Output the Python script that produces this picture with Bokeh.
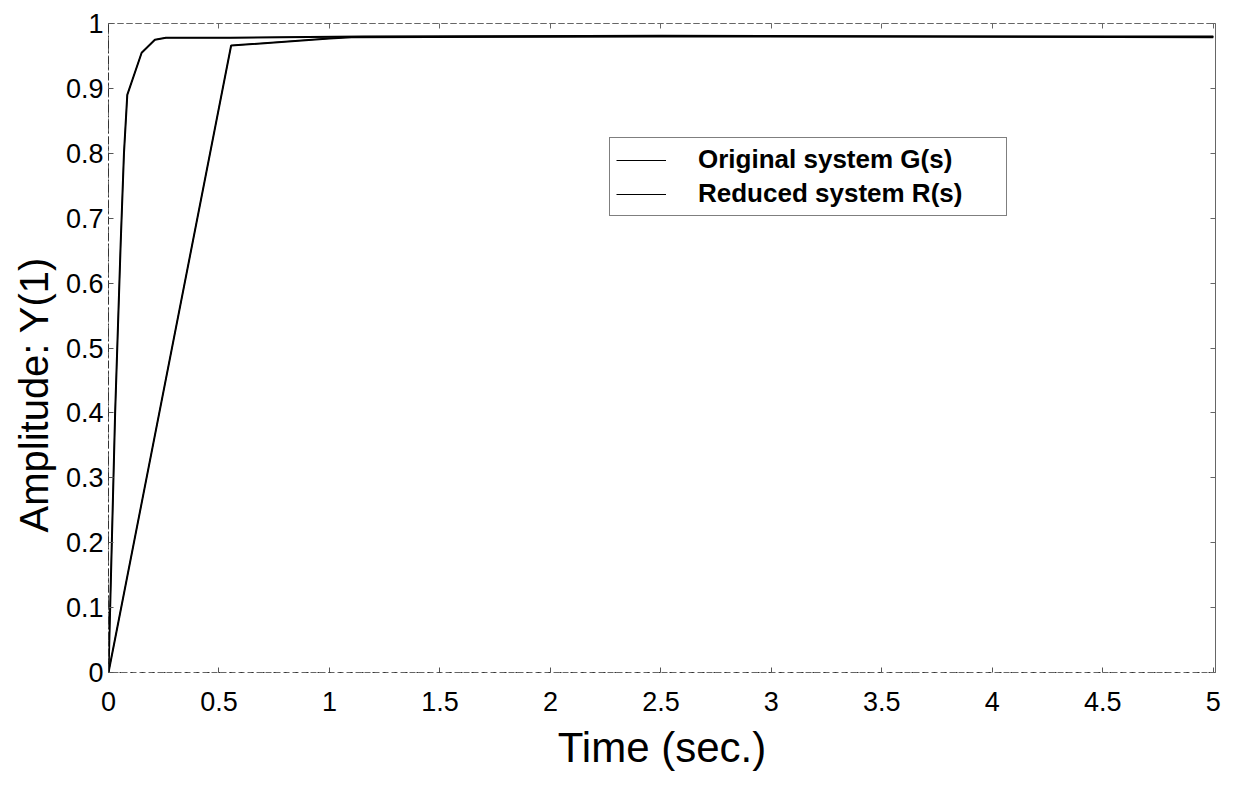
from bokeh.plotting import figure
from bokeh.models import Range1d, FixedTicker, LinearAxis, Legend, LegendItem, Title
from bokeh.embed import file_html
from bokeh.resources import INLINE

# Data
t_orig = [0, 0.03, 0.055, 0.07, 0.085, 0.15, 0.21, 0.26, 0.55, 1.15, 2.5, 5.0]
y_orig = [0, 0.40, 0.66, 0.80, 0.89, 0.955, 0.975, 0.978, 0.978, 0.980, 0.981, 0.979]
t_red = [0, 0.555, 1.0, 1.1, 2.5, 5.0]
y_red = [0, 0.966, 0.977, 0.979, 0.980, 0.980]

x_ticks = [0, 0.5, 1, 1.5, 2, 2.5, 3, 3.5, 4, 4.5, 5]
x_tick_labels = ["0", "0.5", "1", "1.5", "2", "2.5", "3", "3.5", "4", "4.5", "5"]
y_ticks = [0, 0.1, 0.2, 0.3, 0.4, 0.5, 0.6, 0.7, 0.8, 0.9, 1]
y_tick_labels = ["0", "0.1", "0.2", "0.3", "0.4", "0.5", "0.6", "0.7", "0.8", "0.9", "1"]

legend_labels = ["Original system G(s)", "Reduced system R(s)"]
x_title = "Time (sec.)"
y_title = "Amplitude: Y(1)"
FONT = "Liberation Sans"

p = figure(width=1233, height=792, output_backend="svg", toolbar_location=None,
           x_range=Range1d(0, 5.01), y_range=Range1d(0, 1.0),
           min_border_left=108, min_border_right=18, min_border_top=23,
           min_border_bottom=120, x_axis_label=x_title)
p.grid.visible = False
p.outline_line_color = "#666666"
p.outline_line_dash = "6 3"
p.outline_line_width = 1

for ax, ticks, labels in ((p.xaxis[0], x_ticks, x_tick_labels), (p.yaxis[0], y_ticks, y_tick_labels)):
    ax.ticker = FixedTicker(ticks=ticks)
    ax.major_label_overrides = {tk: lb for tk, lb in zip(ticks, labels)}
    ax.minor_tick_line_color = None
    ax.major_tick_in = 5
    ax.major_tick_out = 0
    ax.major_tick_line_color = "#555555"
    ax.axis_line_color = "#333333"
    ax.major_label_text_font = FONT
    ax.major_label_text_font_size = "27px"
    ax.major_label_text_color = "black"
    ax.axis_label_text_font = FONT
    ax.axis_label_text_font_style = "normal"
    ax.axis_label_text_color = "black"

p.xaxis[0].axis_line_dash = "2 9"
p.yaxis[0].axis_line_dash = "8 3 2 3"
p.xaxis[0].major_label_standoff = 19
p.yaxis[0].major_label_standoff = 5
p.xaxis[0].axis_label_text_font_size = "42px"
p.xaxis[0].axis_label_standoff = 10

for loc, ticks in (("above", x_ticks), ("right", y_ticks)):
    ax = LinearAxis(ticker=FixedTicker(ticks=ticks))
    ax.major_label_text_font_size = "0px"
    ax.major_label_text_color = None
    ax.minor_tick_line_color = None
    ax.major_tick_in = 5
    ax.major_tick_out = 0
    ax.major_tick_line_color = "#666666"
    ax.axis_line_color = "#666666"
    ax.axis_line_dash = "6 3"
    p.add_layout(ax, loc)

# y-axis title, placed lower than centre as in the reference
ytitle = Title(text=y_title, align="left", offset=140, text_font=FONT,
               text_font_size="40px", text_font_style="normal",
               text_color="black", standoff=14)
p.add_layout(ytitle, "left")

p.line(t_orig, y_orig, line_color="black", line_width=2)
p.line(t_red, y_red, line_color="black", line_width=2)

# thin copies (hidden under the thick lines) used for the legend samples
s1 = p.line(t_orig, y_orig, line_color="black", line_width=1)
s2 = p.line(t_red, y_red, line_color="black", line_width=1)

leg = Legend(items=[LegendItem(label=legend_labels[0], renderers=[s1]),
                    LegendItem(label=legend_labels[1], renderers=[s2])],
             location=(501, 456), orientation="vertical")
leg.label_text_font = FONT
leg.label_text_font_size = "26px"
leg.label_text_font_style = "bold"
leg.label_text_color = "black"
leg.glyph_width = 50
leg.glyph_height = 28
leg.label_standoff = 32
leg.label_height = 28
leg.label_width = 302
leg.spacing = 3
leg.padding = 6
leg.margin = 0
leg.border_line_color = "black"
leg.border_line_width = 1
leg.background_fill_alpha = 1
p.add_layout(leg, "center")

open("out.html", "w").write(file_html(p, INLINE))
